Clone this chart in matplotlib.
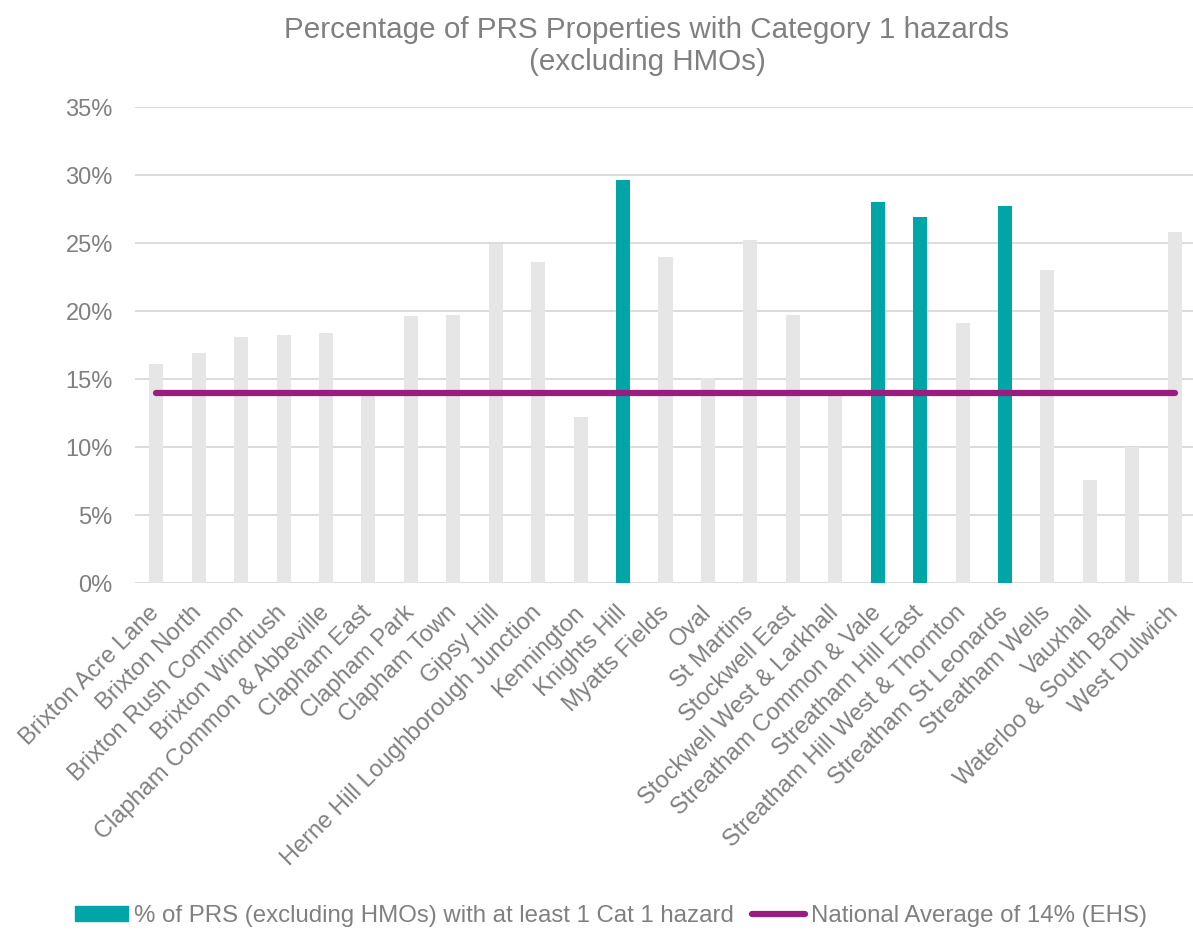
import matplotlib.pyplot as plt
from matplotlib.patches import Patch
from matplotlib.lines import Line2D
from matplotlib.ticker import PercentFormatter

plt.rcParams['font.family'] = ['Liberation Sans', 'DejaVu Sans']

wards = [
    "Brixton Acre Lane", "Brixton North", "Brixton Rush Common", "Brixton Windrush",
    "Clapham Common & Abbeville", "Clapham East", "Clapham Park", "Clapham Town",
    "Gipsy Hill", "Herne Hill Loughborough Junction", "Kennington", "Knights Hill",
    "Myatts Fields", "Oval", "St Martins", "Stockwell East", "Stockwell West & Larkhall",
    "Streatham Common & Vale", "Streatham Hill East", "Streatham Hill West & Thornton",
    "Streatham St Leonards", "Streatham Wells", "Vauxhall", "Waterloo & South Bank",
    "West Dulwich",
]
pct_cat1 = [16.1, 16.9, 18.1, 18.2, 18.4, 13.8, 19.6, 19.7, 24.9, 23.6, 12.2, 29.6,
            24.0, 15.1, 25.2, 19.7, 13.8, 28.0, 26.9, 19.1, 27.7, 23.0, 7.6, 10.0, 25.8]
highlight = ["Knights Hill", "Streatham Common & Vale", "Streatham Hill East",
             "Streatham St Leonards"]
national_avg = 14.0

TEAL = "#00A5A8"
GREY_BAR = "#E6E6E6"
PURPLE = "#9A1C7F"
TXT = "#808080"

fig = plt.figure(figsize=(11.93, 9.3), dpi=100)
ax = fig.add_axes([135 / 1193, 1 - 583 / 930, (1196 - 135) / 1193, (583 - 107) / 930])

x = list(range(len(wards)))
colors = [TEAL if w in highlight else GREY_BAR for w in wards]
ax.bar(x, pct_cat1, width=0.33, color=colors, zorder=2)
ax.plot(x, [national_avg] * len(x), color=PURPLE, lw=4.5, solid_capstyle="round", zorder=3)

ax.set_xlim(-0.5, len(wards) - 0.5)
ax.set_ylim(0, 35)
ax.set_yticks(range(0, 36, 5))
ax.yaxis.set_major_formatter(PercentFormatter(decimals=0))
ax.grid(axis="y", color="#D9D9D9", lw=1.3, zorder=0)
ax.set_axisbelow(True)
for s in ax.spines.values():
    s.set_visible(False)
ax.tick_params(length=0, labelsize=17, colors=TXT)
ax.tick_params(axis="y", pad=16)
ax.set_xticks(x)
ax.set_xticklabels(wards, rotation=45, ha="right", va="center", rotation_mode="anchor")
ax.tick_params(axis="x", pad=19)

fig.text(647 / 1193, 1 - 46 / 930, "Percentage of PRS Properties with Category 1 hazards\n(excluding HMOs)",
         ha="center", va="center", fontsize=21.3, color=TXT, linespacing=1.2)

handles = [Patch(color=TEAL), Line2D([], [], color=PURPLE, lw=4.5, solid_capstyle="round")]
labels = ["% of PRS (excluding HMOs) with at least 1 Cat 1 hazard", "National Average of 14% (EHS)"]
fig.legend(handles, labels, loc="center", bbox_to_anchor=(611 / 1193, 1 - 916 / 930), ncol=2,
           frameon=False, fontsize=17.3, labelcolor=TXT, handlelength=2.2, handleheight=0.55,
           handletextpad=0.25, columnspacing=0.75)

fig.savefig("out.png", dpi=100)
